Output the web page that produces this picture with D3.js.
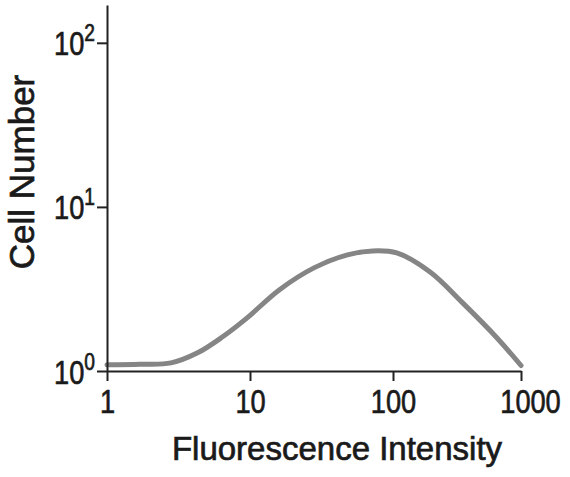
<!DOCTYPE html>
<html>
<head>
<meta charset="utf-8">
<script src="https://cdn.jsdelivr.net/npm/d3@7"></script>
<style>
  body { margin: 0; background: #fff; }
  text { font-family: "Liberation Sans", Arial, sans-serif; fill: #1a1a1a; stroke: #1a1a1a; stroke-width: 0.7px; }
</style>
</head>
<body>
<div class="canvas"></div>
<script>
// values (log-log histogram outline)
const intensity  = [1, 1.7, 2.8, 4.3, 6.4, 9.5, 16, 28, 48, 72, 107, 195, 350, 650, 1000];
const cellNumber = [1.09, 1.10, 1.12, 1.29, 1.61, 2.10, 3.12, 4.25, 5.10, 5.39, 5.24, 4.01, 2.60, 1.59, 1.08];

const xTicks = [1, 10, 100, 1000];
const yTicks = [1, 10, 100];
const yExps  = ['0', '1', '2'];

const xTitle = 'Fluorescence Intensity';
const yTitle = 'Cell Number';

const dims = {width: 570, height: 477};
const axisX = 107, axisY = 371;

const svg = d3.select('.canvas')
  .append('svg')
  .attr('width', dims.width)
  .attr('height', dims.height);

// last decade is a bit shorter in the original, so piecewise log
const x = d3.scaleLog()
  .domain(xTicks)
  .range([axisX, 250, 393, 521]);

const y = d3.scaleLog()
  .domain([1, 170])
  .range([axisY, 5]);

const xAxis = d3.axisBottom(x)
  .tickValues(xTicks)
  .tickSize(10)
  .tickSizeOuter(0)
  .tickFormat(d => d);

const yAxis = d3.axisLeft(y)
  .tickValues(yTicks)
  .tickSize(10)
  .tickSizeOuter(0)
  .tickFormat('');

const line = d3.line()
  .x((d, i) => x(intensity[i]))
  .y(d => y(d))
  .curve(d3.curveCatmullRom);

svg.append('path')
  .datum(cellNumber)
  .attr('d', line)
  .attr('fill', 'none')
  .attr('stroke', '#858585')
  .attr('stroke-width', 5)
  .attr('stroke-linecap', 'round');

const gx = svg.append('g')
  .attr('transform', `translate(0,${axisY})`)
  .call(xAxis);

const gy = svg.append('g')
  .attr('transform', `translate(${axisX},0)`)
  .call(yAxis);

[gx, gy].forEach(g => {
  g.select('.domain').attr('stroke', '#222').attr('stroke-width', 2);
  g.selectAll('.tick line').attr('stroke', '#222').attr('stroke-width', 2);
});

// condensed looking tick labels; the last one sits a little right of its tick
gx.selectAll('.tick text')
  .attr('y', 0).attr('dy', 0)
  .attr('transform', (d, i) => `translate(${i === xTicks.length - 1 ? 9 : 0},42) scale(0.8,1)`)
  .style('font-size', '34px')
  .attr('fill', '#1a1a1a');

gy.selectAll('.tick text').remove();
gy.selectAll('.tick').each(function(d, i) {
  const t = d3.select(this).append('text')
    .attr('text-anchor', 'end')
    .attr('transform', 'translate(-12,12) scale(0.8,1)')
    .style('font-size', '34px');
  t.append('tspan').text('10');
  t.append('tspan')
    .attr('dy', -14)
    .style('font-size', '24px')
    .text(yExps[i]);
});

svg.append('text')
  .attr('x', 337)
  .attr('y', 460)
  .attr('text-anchor', 'middle')
  .style('font-size', '33px')
  .text(xTitle);

svg.append('text')
  .attr('transform', 'translate(34,172) rotate(-90)')
  .attr('text-anchor', 'middle')
  .style('font-size', '35px')
  .text(yTitle);
</script>
</body>
</html>
